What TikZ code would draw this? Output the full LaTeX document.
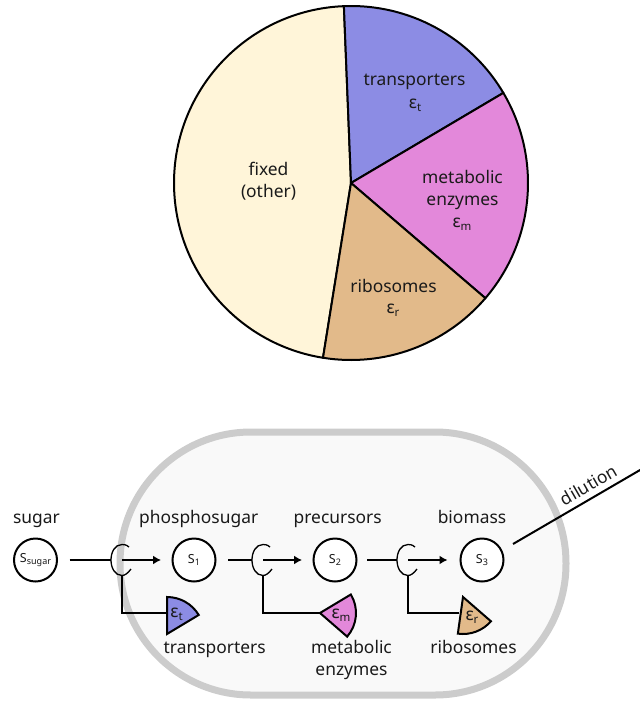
\documentclass[tikz,border=0pt]{standalone}
\usepackage{fontspec}
\setmainfont{Noto Sans}
\usetikzlibrary{arrows.meta,calc}
\definecolor{blueslice}{HTML}{8C8CE4}
\definecolor{pinkslice}{HTML}{E388DA}
\definecolor{tanslice}{HTML}{E2BA8A}
\definecolor{creamslice}{HTML}{FFF5D9}
\definecolor{ink}{HTML}{1A1A1A}
\newcommand{\eps}[1]{ε\raisebox{-0.22em}{\fontsize{11.5}{11.5}\selectfont #1}}
\newcommand{\met}[2]{{\fontsize{12.5}{12.5}\selectfont S\raisebox{-0.22em}{\fontsize{#2}{#2}\selectfont #1}}}
\tikzset{
  lab/.style={text=ink,font=\fontsize{17.4}{22}\selectfont,inner sep=0pt,align=center,text height=12pt,text depth=0pt},
  slice/.style={draw=black,line width=2pt,line join=round},
  sectorshape/.style={draw=black,line width=2pt,line join=miter},
  metab/.style={circle,draw=black,line width=2pt,fill=white,minimum size=43pt,inner sep=0pt,outer sep=0pt,text=ink},
  conn/.style={draw=black,line width=1.5pt},
  arrowconn/.style={conn,-{Latex[length=8pt,width=9pt]}},
  catcup/.style={draw=black,line width=1.3pt},
  wall/.style={draw=black!20,line width=7pt,fill=black!2.5}
}
\begin{document}
\begin{tikzpicture}[x=1pt,y=-1pt]
\path[use as bounding box] (0,0) rectangle (640,702);
\clip (0,0) rectangle (640,702);
% pie
\coordinate (piec) at (351,183);
\filldraw[slice,fill=creamslice] (piec) -- ++(-92.3:177) arc[start angle=-92.3,end angle=-260.9,radius=177] -- cycle;
\filldraw[slice,fill=blueslice] (piec) -- ++(-92.3:177) arc[start angle=-92.3,end angle=-30.6,radius=177] -- cycle;
\filldraw[slice,fill=pinkslice] (piec) -- ++(-30.6:177) arc[start angle=-30.6,end angle=40.6,radius=177] -- cycle;
\filldraw[slice,fill=tanslice] (piec) -- ++(40.6:177) arc[start angle=40.6,end angle=99.1,radius=177] -- cycle;
\node[lab] (pt) at (414.5,79) {transporters};
\node[lab] (pte) at (415,102) {\eps{t}};
\node[lab] (pm1) at (462.5,177) {metabolic};
\node[lab] (pm2) at (462.5,199) {enzymes};
\node[lab] (pme) at (462,221) {\eps{m}};
\node[lab] (pr) at (393.5,286) {ribosomes};
\node[lab] (pre) at (393,307) {\eps{r}};
\node[lab] (pf1) at (268.5,169) {fixed};
\node[lab] (pf2) at (268.5,191) {(other)};
% cell
\draw[wall,rounded corners=131pt] (120,432) rectangle (566,695);
% metabolites
\node[metab] (ss) at (35.5,560) {\met{sugar}{9}};
\node[metab] (s1) at (194,560) {\met{1}{9}};
\node[metab] (s2) at (335,560) {\met{2}{9}};
\node[metab] (s3) at (482,560) {\met{3}{9}};
\node[lab] (lsugar) at (36.5,517) {sugar};
\node[lab] (lphos) at (198.7,517) {phosphosugar};
\node[lab] (lprec) at (337.7,517) {precursors};
\node[lab] (lbio) at (472,517) {biomass};
% catalysis cups
\foreach \n/\x in {1/111,2/252,3/397}{
  \coordinate (cl\n) at (\x,560);
  \coordinate (ci\n) at ({\x+11},560);
  \coordinate (cb\n) at ({\x+11},575.5);
  \draw[catcup] ({\x+18},547) .. controls ({\x+15},544.5) and ({\x+13},544.5) .. ({\x+11},544.5)
     .. controls ({\x+4},544.5) and (\x,552) .. (cl\n)
     .. controls (\x,568) and ({\x+4},575.5) .. (cb\n)
     .. controls ({\x+14},575.5) and ({\x+17},573) .. ({\x+20},569);
}
\coordinate (w1) at (167,613);
\coordinate (w2) at (320,613);
\coordinate (w3) at (459,613);
\draw[conn,shorten <=12.5pt] (ss) -- (cl1);
\draw[arrowconn,shorten >=11.5pt] (ci1) -- (s1);
\draw[conn,shorten <=12.5pt] (s1) -- (cl2);
\draw[arrowconn,shorten >=11.5pt] (ci2) -- (s2);
\draw[conn,shorten <=10.5pt] (s2) -- (cl3);
\draw[arrowconn,shorten >=13pt] (ci3) -- (s3);
\draw[conn] (cb1) |- (w1);
\draw[conn] (cb2) |- (w2);
\draw[conn] (cb3) |- (w3);
% enzymes
\filldraw[sectorshape,fill=blueslice] (167,634) -- ++(-90:37) arc[start angle=-90,end angle=-31,radius=37] -- cycle;
\filldraw[sectorshape,fill=pinkslice] (320,613) -- ++(-31:36) arc[start angle=-31,end angle=41,radius=36] -- cycle;
\filldraw[sectorshape,fill=tanslice] (463,597) -- ++(41:37) arc[start angle=41,end angle=98,radius=37] -- cycle;
\node[lab] (et) at (176.5,611) {\eps{t}};
\node[lab] (em) at (341,612) {\eps{m}};
\node[lab] (er) at (472,614) {\eps{r}};
\node[lab] (lt) at (214.7,647) {transporters};
\node[lab] (lm1) at (351.5,647) {metabolic};
\node[lab] (lm2) at (351.5,669) {enzymes};
\node[lab] (lr) at (473.5,647) {ribosomes};
% dilution
\coordinate (dstart) at (513,544);
\coordinate (sink) at (649,464.8);
\draw[draw=black,line width=2pt,-{Latex[length=8pt,width=9pt]}] (dstart) -- (sink);
\node[lab,rotate=30,text height=0pt] (ldil) at (592,490.5) {dilution};
\end{tikzpicture}
\end{document}
